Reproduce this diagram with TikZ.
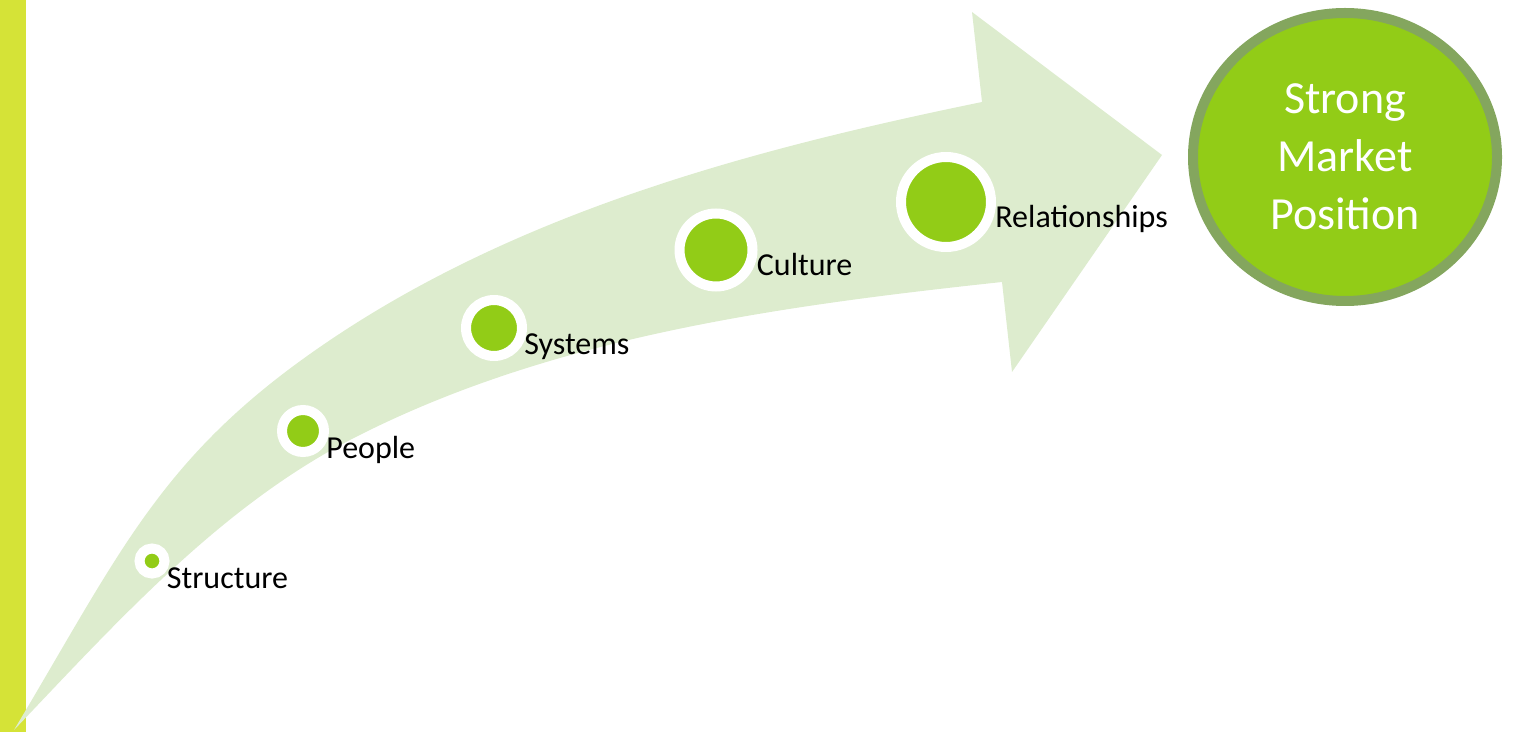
\documentclass[tikz,border=0pt]{standalone}
\usepackage{fontspec}
\setmainfont{Carlito}
\usepackage{tikz}
\usetikzlibrary{shapes.geometric, positioning}

\definecolor{barlime}{RGB}{213,227,55}
\definecolor{arrowtint}{RGB}{221,236,206}
\definecolor{dotgreen}{RGB}{146,204,23}
\definecolor{ringolive}{RGB}{132,166,94}

\tikzset{
	x=0.5pt, y=-0.5pt, % one unit is one pixel, y runs downwards
	dot/.style={circle, fill=dotgreen, draw=white, line width=5pt, inner sep=0pt}, % green dot in a white ring
	lbl/.style={anchor=base west, inner sep=0pt, font=\fontsize{16}{19}\selectfont}, % step labels
	goal/.style={ellipse, fill=dotgreen, draw=ringolive, line width=5pt, text=white, align=center,
		font=\fontsize{23}{29}\selectfont}, % target circle
}

\begin{document}
\begin{tikzpicture}
	\useasboundingbox (0,0) rectangle (1514,732);
	% side bar
	\fill[barlime] (0,0) rectangle (26,732);
	% the sweeping arrow: upper edge, head, lower edge
	\fill[arrowtint] (14,730) .. controls (127,541) and (165,446) .. (350,327)
		.. controls (539,206) and (763,147) .. (982,102)
		-- (972,12) -- (1162,155) -- (1012,372) -- (1002,282)
		.. controls (779,306) and (549,337) .. (350,440)
		.. controls (219,508) and (116,623) .. (14,730) -- cycle;
	% steps along the arrow
	\node[dot, minimum size=12.5pt] (structure) at (152,561) {};
	\node[dot, minimum size=21pt] (people) at (303,431) {};
	\node[dot, minimum size=28pt] (systems) at (494,328) {};
	\node[dot, minimum size=36.5pt] (culture) at (716,250) {};
	\node[dot, minimum size=45pt] (relationships) at (946,202) {};
	\node[lbl] (structure-text) at ([xshift=-1.5pt, yshift=-13.5pt]structure.east) {Structure};
	\node[lbl] (people-text) at ([xshift=-1.5pt, yshift=-13.5pt]people.east) {People};
	\node[lbl] (systems-text) at ([xshift=-1.5pt, yshift=-13.5pt]systems.east) {Systems};
	\node[lbl] (culture-text) at ([xshift=-0.5pt, yshift=-13pt]culture.east) {Culture};
	\node[lbl] (relationships-text) at ([xshift=-0.5pt, yshift=-13pt]relationships.east) {Relationships};
	% where it leads
	\node[goal, minimum width=152pt, minimum height=144pt] (market) at (1345,157) {Strong\\Market\\Position};
\end{tikzpicture}
\end{document}
